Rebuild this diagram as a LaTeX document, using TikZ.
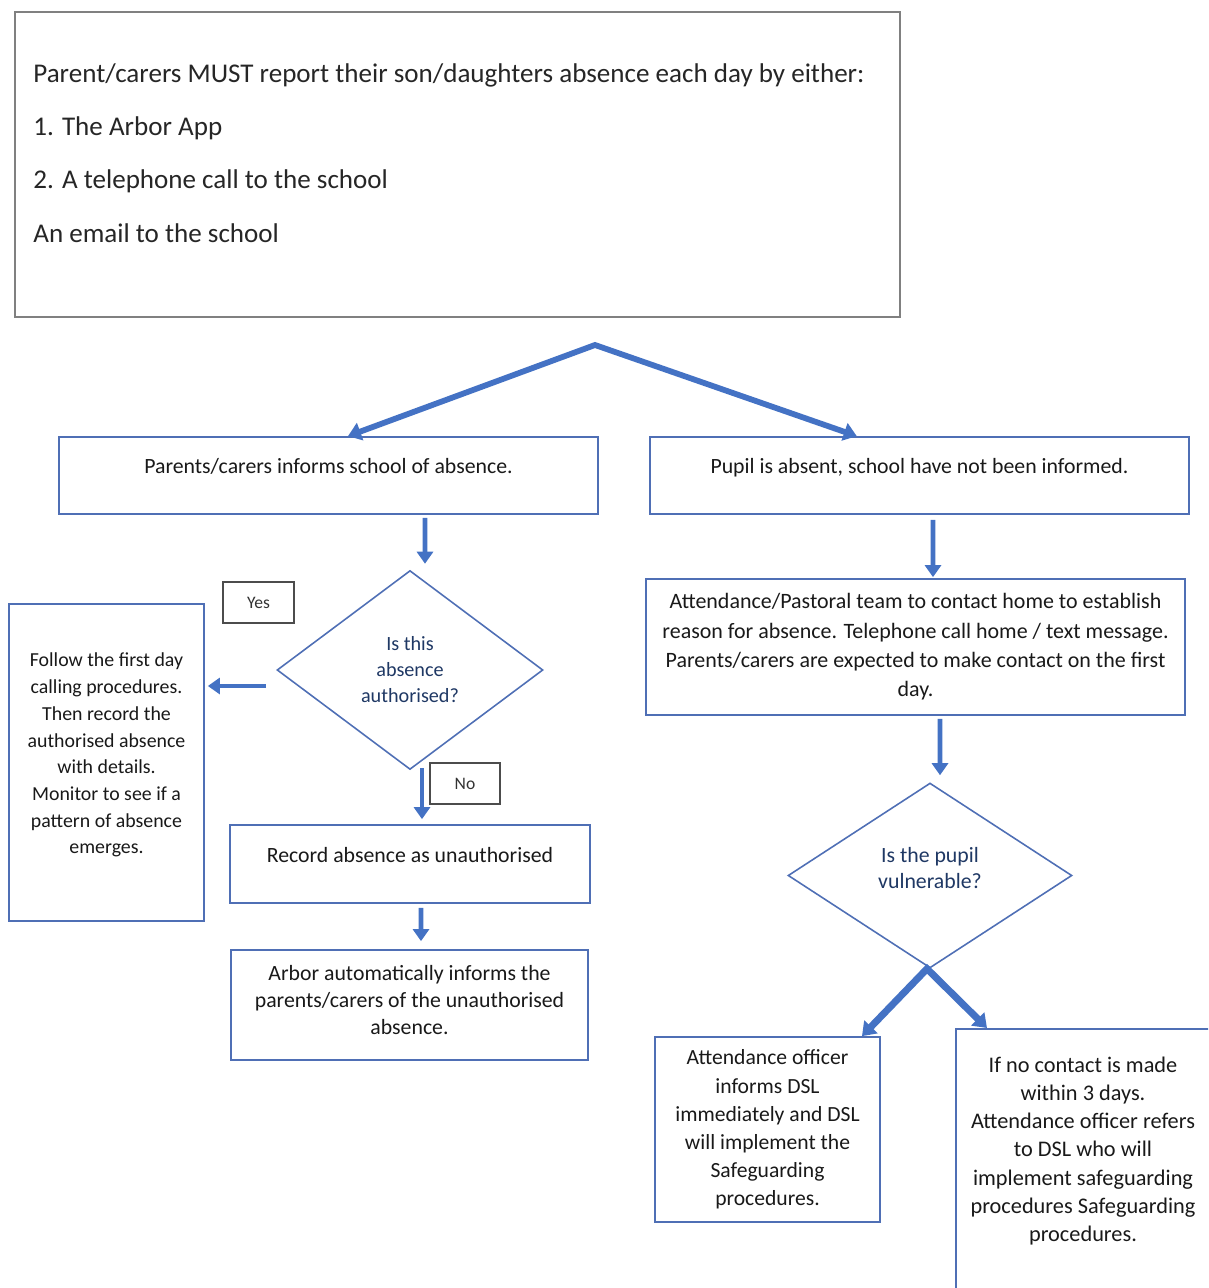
\documentclass[tikz,border=0pt]{standalone}
\usepackage{fontspec}
\setmainfont{Carlito}
\usetikzlibrary{shapes.geometric,arrows.meta,calc}
\definecolor{flowblue}{HTML}{4472C4}
\definecolor{boxblue}{HTML}{4F6FB5}
\definecolor{qnavy}{HTML}{1F3864}

\begin{document}
\begin{tikzpicture}[x=0.02cm,y=-0.02cm,
  box/.style={draw=boxblue,line width=1pt,inner sep=0pt,align=center,text=black!90,font=\fontsize{12.4}{16}\selectfont},
  question/.style={diamond,draw=boxblue,line width=0.9pt,inner sep=0pt,align=center,text=qnavy,font=\fontsize{11.5}{14.8}\selectfont},
  answer/.style={draw=black!70,line width=0.8pt,minimum width=1.42cm,minimum height=0.82cm,text=black!80,font=\fontsize{10}{12}\selectfont},
  flowline/.style={draw=flowblue,line width=2.8pt},
  flow/.style={flowline,-{Triangle[length=0.24cm,width=0.32cm]}},
  split/.style={flowline,line width=3.3pt,{Triangle[length=0.26cm,width=0.36cm]}-{Triangle[length=0.26cm,width=0.36cm]}},
]
\useasboundingbox (0,0) rectangle (1208,1288);
\clip (0,0) rectangle (1208,1288);

\node[draw=black!50,line width=1pt,minimum width=17.7cm,minimum height=6.1cm] (reportBox) at (457.5,164.5) {};
\node[anchor=west,inner sep=0pt,align=left,text=black!85,font=\fontsize{15.4}{30.3}\selectfont] (reportText) at (33,153)
  {Parent/carers MUST report their son/daughters absence each day by either:\\1. The Arbor App\\2. A telephone call to the school\\An email to the school};

\coordinate (fork) at (595,345);
\node[box,minimum width=10.78cm,minimum height=1.54cm,text depth=0.37cm] (parentsInform) at (328.5,475.5) {Parents/carers informs school of absence.};
\node[box,minimum width=10.78cm,minimum height=1.54cm,text depth=0.37cm] (pupilAbsent) at (919.5,475.5) {Pupil is absent, school have not been informed.};

\node[question,minimum width=5.32cm,minimum height=3.98cm] (authorised) at (410,670) {Is this\\absence\\authorised?};
\node[answer] (yes) at (258.5,602.5) {Yes};
\node[box,minimum width=3.9cm,minimum height=6.34cm,text depth=0.36cm,font=\fontsize{11.3}{15.2}\selectfont] (firstDay) at (106.5,762.5)
  {Follow the first day\\calling procedures.\\Then record the\\authorised absence\\with details.\\Monitor to see if a\\pattern of absence\\emerges.};
\node[answer,minimum width=1.4cm] (no) at (465,783.5) {No};
\node[box,minimum width=7.2cm,minimum height=1.56cm,text depth=0.37cm] (recordUnauth) at (410,864) {Record absence as unauthorised};
\node[box,minimum width=7.14cm,minimum height=2.2cm,text depth=0.2cm,font=\fontsize{12.4}{15.6}\selectfont] (arborInforms) at (409.5,1005)
  {Arbor automatically informs the\\parents/carers of the unauthorised\\absence.};

\node[box,minimum width=10.78cm,minimum height=2.72cm,font=\fontsize{12.5}{16.7}\selectfont] (contactHome) at (915.5,647)
  {Attendance/Pastoral team to contact home to establish\\reason for absence. Telephone call home / text message.\\Parents/carers are expected to make contact on the first\\day.};
\node[question,minimum width=5.68cm,minimum height=3.7cm,text depth=0.32cm,font=\fontsize{12.4}{14.8}\selectfont] (vulnerable) at (930,875.5) {Is the pupil\\vulnerable?};
\node[box,minimum width=4.5cm,minimum height=3.7cm,font=\fontsize{12.3}{16}\selectfont] (informDSL) at (767.5,1129.5)
  {Attendance officer\\informs DSL\\immediately and DSL\\will implement the\\Safeguarding\\procedures.};
\node[box,anchor=north west,minimum width=5.5cm,minimum height=6cm] (noContact) at (955,1028) {};
\node[align=center,text=black!90,font=\fontsize{12.7}{16}\selectfont] (noContactText) at (1083,1151)
  {If no contact is made\\within 3 days.\\Attendance officer refers\\to DSL who will\\implement safeguarding\\procedures Safeguarding\\procedures.};

\draw[split] ($(parentsInform.north west)!0.536!(parentsInform.north east)$) -- (fork)
  -- ($(pupilAbsent.north west)!0.384!(pupilAbsent.north east)$);
\draw[flow] ([xshift=1.93cm,yshift=-0.06cm]parentsInform.south) -- ([xshift=0.3cm,yshift=0.12cm]authorised.north);
\coordinate (yesStart) at ([xshift=-0.2cm,yshift=-0.32cm]authorised.west);
\draw[flow] (yesStart) -- ([xshift=0.06cm]yesStart -| firstDay.east);
\draw[flow] ([xshift=0.24cm,yshift=0.04cm]authorised.south) -- ([xshift=0.24cm,yshift=0.1cm]recordUnauth.north);
\draw[flow] ([xshift=0.22cm,yshift=-0.08cm]recordUnauth.south) -- ([xshift=0.23cm,yshift=0.16cm]arborInforms.north);
\draw[flow] ([xshift=0.27cm,yshift=-0.1cm]pupilAbsent.south) -- ([xshift=0.35cm,yshift=0.02cm]contactHome.north);
\draw[flow] ([xshift=0.49cm,yshift=-0.06cm]contactHome.south) -- ([xshift=0.2cm,yshift=0.14cm]vulnerable.north);
\draw[split,line width=4pt] ([xshift=1.89cm]informDSL.north) -- ([xshift=-0.06cm]vulnerable.south)
  -- ([xshift=0.64cm]noContact.north west);
\end{tikzpicture}
\end{document}
